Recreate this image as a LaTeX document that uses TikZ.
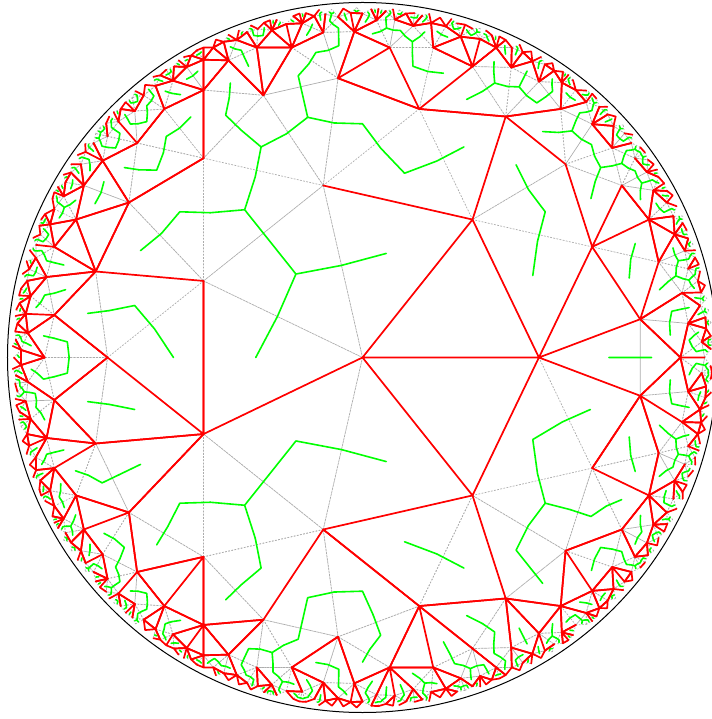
\documentclass[tikz,border=0pt]{standalone}

\tikzset{
  tilegrid/.style={draw=gray!65, line width=0.7pt, dash pattern=on 1.5pt off 1.7pt},
  openedge/.style={draw=red, line width=1.7pt, line cap=round, line join=round},
  dualedge/.style={draw=green, line width=1.6pt, line cap=round, line join=round},
  rim/.style={draw=black, line width=1pt}
}

\ExplSyntaxOn
% order-7 triangular tiling in the Poincare disk (unit radius)
\fp_const:Nn \c__hyp_r_fp { sqrt(1 - 4 * (sin(pi/7))^2) }
\fp_const:Nn \c__hyp_t_fp { \c__hyp_r_fp / (1 + sqrt(1 - \c__hyp_r_fp^2)) }
\fp_const:Nn \c__hyp_s_fp { 2 * \c__hyp_r_fp / (1 + \c__hyp_r_fp^2) * cos(pi/7) }
\fp_const:Nn \c__hyp_m_fp { \c__hyp_s_fp / (1 + sqrt(1 - \c__hyp_s_fp^2)) }
\fp_const:Nn \c__hyp_q_fp { \c__hyp_r_fp / cos(pi/7) }
\fp_const:Nn \c__hyp_c_fp { \c__hyp_q_fp / (1 + sqrt(1 - \c__hyp_q_fp^2)) }
\fp_const:Nn \c__hyp_rmax_fp { 0.976^2 }
\fp_const:Nn \c__hyp_cut_fp { 0.64 }
\fp_const:Nn \c__hyp_cutb_fp { 0.923^2 }
\fp_const:Nn \c__hyp_p_fp { 0.5 }

\cs_new_protected:Npn \__hyp_base:nnn #1#2#3
  {
    \fp_const:cn { c__hyp_#1x_fp } { (#2) * cos(#3) }
    \fp_const:cn { c__hyp_#1y_fp } { (#2) * sin(#3) }
  }
\__hyp_base:nnn { pa } { 0 } { 0 }
\__hyp_base:nnn { pb } { \c__hyp_r_fp } { 0 }
\__hyp_base:nnn { pc } { \c__hyp_r_fp } { 2*pi/7 }
\__hyp_base:nnn { ma } { \c__hyp_m_fp } { pi/7 }
\__hyp_base:nnn { mb } { \c__hyp_t_fp } { 2*pi/7 }
\__hyp_base:nnn { mc } { \c__hyp_t_fp } { 0 }
\__hyp_base:nnn { cc } { \c__hyp_c_fp } { pi/7 }

% half-turns about the three edge midpoints
\cs_new_protected:Npn \__hyp_gen:n #1
  {
    \fp_set:Nn \l_tmpa_fp { \use:c { c__hyp_m#1x_fp }^2 + \use:c { c__hyp_m#1y_fp }^2 }
    \fp_const:cn { c__hyp_g#1ar_fp } { 0 }
    \fp_const:cn { c__hyp_g#1ai_fp } { (1 + \l_tmpa_fp) / (1 - \l_tmpa_fp) }
    \fp_const:cn { c__hyp_g#1br_fp } { 2 * \use:c { c__hyp_m#1y_fp } / (1 - \l_tmpa_fp) }
    \fp_const:cn { c__hyp_g#1bi_fp } { -2 * \use:c { c__hyp_m#1x_fp } / (1 - \l_tmpa_fp) }
  }
\__hyp_gen:n { a }
\__hyp_gen:n { b }
\__hyp_gen:n { c }

\clist_const:Nn \c__hyp_points_clist { pa, pb, pc, ma, mb, mc, cc }
\clist_map_inline:Nn \c__hyp_points_clist
  {
    \fp_new:c { l__hyp_#1x_fp }
    \fp_new:c { l__hyp_#1y_fp }
    \tl_new:c { l__hyp_#1_tl }
  }
\clist_map_inline:nn
  { ar, ai, br, bi, nar, nai, nbr, nbi, nr, ni, dr, di, dd, wx, wy, h }
  { \fp_new:c { l__hyp_#1_fp } }
\int_new:N \g__hyp_count_int
\int_new:N \l__hyp_i_int
\int_new:N \l__hyp_ix_int
\int_new:N \l__hyp_iy_int
\bool_new:N \l__hyp_open_bool
\tl_new:N \l__hyp_red_tl
\tl_new:N \l__hyp_green_tl
\tl_new:N \l__hyp_key_tl
\tl_new:N \l__hyp_path_tl

% w = (a z + b) / (conj(b) z + conj(a))
\cs_new_protected:Npn \__hyp_apply:nnnnnn #1#2#3#4#5#6
  {
    \fp_set:Nn \l__hyp_nr_fp { (#1)*(#5) - (#2)*(#6) + (#3) }
    \fp_set:Nn \l__hyp_ni_fp { (#1)*(#6) + (#2)*(#5) + (#4) }
    \fp_set:Nn \l__hyp_dr_fp { (#3)*(#5) + (#4)*(#6) + (#1) }
    \fp_set:Nn \l__hyp_di_fp { (#3)*(#6) - (#4)*(#5) - (#2) }
    \fp_set:Nn \l__hyp_dd_fp { \l__hyp_dr_fp^2 + \l__hyp_di_fp^2 }
    \fp_set:Nn \l__hyp_wx_fp
      { (\l__hyp_nr_fp * \l__hyp_dr_fp + \l__hyp_ni_fp * \l__hyp_di_fp) / \l__hyp_dd_fp }
    \fp_set:Nn \l__hyp_wy_fp
      { (\l__hyp_ni_fp * \l__hyp_dr_fp - \l__hyp_nr_fp * \l__hyp_di_fp) / \l__hyp_dd_fp }
  }

\cs_new_protected:Npn \__hyp_key:
  {
    \tl_set:Nx \l__hyp_key_tl
      {
        g__hyp_seen_ \fp_eval:n { round(\l__hyp_wx_fp * 100000 + 0.37) }
        _ \fp_eval:n { round(\l__hyp_wy_fp * 100000 + 0.37) }
      }
  }

% named vertices of rings 0 to 3 (polar: angle, radius)
\cs_new_protected:Npn \__hyp_vertex:nnn #1#2#3
  {
    \tl_const:cx { c__hyp_v_#1_tl }
      { { \fp_eval:n { (#3) * cosd(#2) } } { \fp_eval:n { (#3) * sind(#2) } } }
  }
\__hyp_vertex:nnn { O } { 0 } { 0 }
\int_step_inline:nnn { 0 } { 6 }
  {
    \__hyp_vertex:nnn { v#1 } { 360/7*#1 } { \c__hyp_r_fp }
    \__hyp_vertex:nnn { s#1 } { 360/7*#1 + 180/7 } { \c__hyp_s_fp }
    \__hyp_vertex:nnn { u#1a } { 360/7*#1 + 7.848 } { 0.7896 }
    \__hyp_vertex:nnn { u#1b } { 360/7*#1 - 7.848 } { 0.7896 }
    \__hyp_vertex:nnn { x#1 } { 360/7*#1 } { 0.8955 }
    \__hyp_vertex:nnn { m#1 } { 360/7*#1 + 180/7 } { 0.8955 }
    \__hyp_vertex:nnn { a#1p } { 360/7*#1 + 5.973 } { 0.9224 }
    \__hyp_vertex:nnn { a#1m } { 360/7*#1 - 5.973 } { 0.9224 }
    \__hyp_vertex:nnn { b#1p } { 360/7*#1 + 11.42 } { 0.9182 }
    \__hyp_vertex:nnn { b#1m } { 360/7*#1 - 11.42 } { 0.9182 }
    \__hyp_vertex:nnn { c#1p } { 360/7*#1 + 17.87 } { 0.8764 }
    \__hyp_vertex:nnn { c#1m } { 360/7*#1 - 17.87 } { 0.8764 }
  }

% an edge is stored under the cell of its chord middle (cells of 0.01)
\cs_new_protected:Npn \__hyp_mid:nnnnn #1#2#3#4#5
  {
    \int_set:Nn \l__hyp_ix_int { \fp_eval:n { round( (#1 + #3) * 50 ) } }
    \int_set:Nn \l__hyp_iy_int { \fp_eval:n { round( (#2 + #4) * 50 ) } }
    \int_step_inline:nnn { -1 } { 1 }
      {
        \int_step_inline:nnn { -1 } { 1 }
          {
            \tl_gset:cn
              {
                g__hyp_e_ \int_eval:n { \l__hyp_ix_int + ##1 }
                _ \int_eval:n { \l__hyp_iy_int + ####1 }
              }
              {#5}
          }
      }
  }
\NewDocumentCommand \hypopen { m m }
  {
    \use:x
      {
        \exp_not:N \__hyp_mid:nnnnn
        \tl_use:c { c__hyp_v_#1_tl } \tl_use:c { c__hyp_v_#2_tl } { 1 }
      }
  }
\NewDocumentCommand \hypshut { m m }
  {
    \use:x
      {
        \exp_not:N \__hyp_mid:nnnnn
        \tl_use:c { c__hyp_v_#1_tl } \tl_use:c { c__hyp_v_#2_tl } { 2 }
      }
  }

\cs_new_protected:Npn \__hyp_hash:n #1
  {
    \fp_set:Nn \l__hyp_h_fp
      {
        sin( 12.9898 * round( \use:c { l__hyp_#1x_fp } * 100000 )
           + 78.233 * round( \use:c { l__hyp_#1y_fp } * 100000 ) ) * 43758.5453
      }
    \fp_compare:nNnT { \l__hyp_h_fp - floor(\l__hyp_h_fp) } < \c__hyp_p_fp
      { \bool_set_true:N \l__hyp_open_bool }
  }

% open (red) or closed (green dual) for the edge #1-#2 with midpoint #3
\cs_new_protected:Npn \__hyp_decide:nnn #1#2#3
  {
    \bool_set_false:N \l__hyp_open_bool
    \fp_set:Nn \l_tmpa_fp { \use:c { l__hyp_#3x_fp }^2 + \use:c { l__hyp_#3y_fp }^2 }
    \fp_compare:nNnTF \l_tmpa_fp < \c__hyp_cutb_fp
      {
        \tl_set:Nx \l__hyp_key_tl
          {
            g__hyp_e_
            \int_eval:n
              { \fp_eval:n { round( ( \use:c { l__hyp_#1x_fp } + \use:c { l__hyp_#2x_fp } ) * 50 ) } }
            _
            \int_eval:n
              { \fp_eval:n { round( ( \use:c { l__hyp_#1y_fp } + \use:c { l__hyp_#2y_fp } ) * 50 ) } }
          }
        \tl_if_exist:cTF { \l__hyp_key_tl }
          {
            \int_compare:nNnT { \tl_use:c { \l__hyp_key_tl } } = { 1 }
              { \bool_set_true:N \l__hyp_open_bool }
          }
          {
            \fp_compare:nNnF \l_tmpa_fp < \c__hyp_cut_fp
              { \__hyp_hash:n {#3} }
          }
      }
      { \__hyp_hash:n {#3} }
  }

\cs_new_protected:Npn \__hyp_edge:nnn #1#2#3
  {
    \__hyp_decide:nnn {#1} {#2} {#3}
    \bool_if:NTF \l__hyp_open_bool
      {
        \tl_put_right:Nx \l__hyp_red_tl
          { ( \tl_use:c { l__hyp_#1_tl } ) -- ( \tl_use:c { l__hyp_#2_tl } ) }
      }
      {
        \tl_put_right:Nx \l__hyp_green_tl
          { ( \l__hyp_cc_tl ) -- ( \tl_use:c { l__hyp_#3_tl } ) }
      }
  }

\cs_new_protected:Npn \__hyp_child:n #1
  {
    \fp_set:Nn \l__hyp_nar_fp
      { \l__hyp_ar_fp * \use:c { c__hyp_g#1ar_fp } - \l__hyp_ai_fp * \use:c { c__hyp_g#1ai_fp }
      + \l__hyp_br_fp * \use:c { c__hyp_g#1br_fp } + \l__hyp_bi_fp * \use:c { c__hyp_g#1bi_fp } }
    \fp_set:Nn \l__hyp_nai_fp
      { \l__hyp_ar_fp * \use:c { c__hyp_g#1ai_fp } + \l__hyp_ai_fp * \use:c { c__hyp_g#1ar_fp }
      + \l__hyp_bi_fp * \use:c { c__hyp_g#1br_fp } - \l__hyp_br_fp * \use:c { c__hyp_g#1bi_fp } }
    \fp_set:Nn \l__hyp_nbr_fp
      { \l__hyp_ar_fp * \use:c { c__hyp_g#1br_fp } - \l__hyp_ai_fp * \use:c { c__hyp_g#1bi_fp }
      + \l__hyp_br_fp * \use:c { c__hyp_g#1ar_fp } + \l__hyp_bi_fp * \use:c { c__hyp_g#1ai_fp } }
    \fp_set:Nn \l__hyp_nbi_fp
      { \l__hyp_ar_fp * \use:c { c__hyp_g#1bi_fp } + \l__hyp_ai_fp * \use:c { c__hyp_g#1br_fp }
      + \l__hyp_bi_fp * \use:c { c__hyp_g#1ar_fp } - \l__hyp_br_fp * \use:c { c__hyp_g#1ai_fp } }
    \__hyp_apply:nnnnnn \l__hyp_nar_fp \l__hyp_nai_fp \l__hyp_nbr_fp \l__hyp_nbi_fp
      \c__hyp_ccx_fp \c__hyp_ccy_fp
    \fp_compare:nNnT { \l__hyp_wx_fp^2 + \l__hyp_wy_fp^2 } < \c__hyp_rmax_fp
      {
        \__hyp_key:
        \cs_if_exist:cF { \l__hyp_key_tl }
          {
            \cs_gset_eq:cN { \l__hyp_key_tl } \prg_do_nothing:
            \int_gincr:N \g__hyp_count_int
            \tl_gset:cx { g__hyp_tile_ \int_use:N \g__hyp_count_int _tl }
              {
                { \fp_use:N \l__hyp_nar_fp } { \fp_use:N \l__hyp_nai_fp }
                { \fp_use:N \l__hyp_nbr_fp } { \fp_use:N \l__hyp_nbi_fp }
              }
          }
      }
  }

\cs_new_protected:Npn \__hyp_tile:nnnn #1#2#3#4
  {
    \fp_set:Nn \l__hyp_ar_fp {#1}
    \fp_set:Nn \l__hyp_ai_fp {#2}
    \fp_set:Nn \l__hyp_br_fp {#3}
    \fp_set:Nn \l__hyp_bi_fp {#4}
    \clist_map_inline:Nn \c__hyp_points_clist
      {
        \__hyp_apply:nnnnnn \l__hyp_ar_fp \l__hyp_ai_fp \l__hyp_br_fp \l__hyp_bi_fp
          { \use:c { c__hyp_##1x_fp } } { \use:c { c__hyp_##1y_fp } }
        \fp_set_eq:cN { l__hyp_##1x_fp } \l__hyp_wx_fp
        \fp_set_eq:cN { l__hyp_##1y_fp } \l__hyp_wy_fp
        \tl_set:cx { l__hyp_##1_tl }
          { \fp_eval:n { round(\l__hyp_wx_fp, 5) } , \fp_eval:n { round(\l__hyp_wy_fp, 5) } }
      }
    \tl_gset:cx { g__hyp_gray_ \int_use:N \l__hyp_i_int _tl }
      {
        ( \l__hyp_pa_tl ) -- ( \l__hyp_pb_tl )
        ( \l__hyp_pb_tl ) -- ( \l__hyp_pc_tl )
        ( \l__hyp_pc_tl ) -- ( \l__hyp_pa_tl )
      }
    \tl_clear:N \l__hyp_red_tl
    \tl_clear:N \l__hyp_green_tl
    \__hyp_edge:nnn { pa } { pb } { mc }
    \__hyp_edge:nnn { pb } { pc } { ma }
    \__hyp_edge:nnn { pc } { pa } { mb }
    \tl_gset_eq:cN { g__hyp_red_ \int_use:N \l__hyp_i_int _tl } \l__hyp_red_tl
    \tl_gset_eq:cN { g__hyp_green_ \int_use:N \l__hyp_i_int _tl } \l__hyp_green_tl
    \__hyp_child:n { a }
    \__hyp_child:n { b }
    \__hyp_child:n { c }
  }

\cs_new_protected:Npn \hypbuild
  {
    \int_gset:Nn \g__hyp_count_int { 1 }
    \tl_gset:cn { g__hyp_tile_1_tl } { {1} {0} {0} {0} }
    \__hyp_apply:nnnnnn {1} {0} {0} {0} \c__hyp_ccx_fp \c__hyp_ccy_fp
    \__hyp_key:
    \cs_gset_eq:cN { \l__hyp_key_tl } \prg_do_nothing:
    \int_set:Nn \l__hyp_i_int { 1 }
    \int_until_do:nNnn { \l__hyp_i_int } > { \g__hyp_count_int }
      {
        \exp_last_unbraced:Nv \__hyp_tile:nnnn { g__hyp_tile_ \int_use:N \l__hyp_i_int _tl }
        \int_incr:N \l__hyp_i_int
      }
  }

% draw the stored pieces of one kind, 30 tiles to a path
\cs_new_protected:Npn \__hyp_flush:n #1
  {
    \tl_if_empty:NF \l__hyp_path_tl
      { \use:x { \exp_not:N \draw [#1] \exp_not:V \l__hyp_path_tl ; } }
    \tl_clear:N \l__hyp_path_tl
  }
\cs_new_protected:Npn \__hyp_drawall:nn #1#2
  {
    \tl_clear:N \l__hyp_path_tl
    \int_step_inline:nn { \g__hyp_count_int }
      {
        \tl_put_right:Nv \l__hyp_path_tl { g__hyp_#2_##1_tl }
        \int_compare:nNnT { \int_mod:nn {##1} {30} } = { 0 }
          { \__hyp_flush:n {#1} }
      }
    \__hyp_flush:n {#1}
  }
\cs_new_protected:Npn \hypdraw
  {
    \__hyp_drawall:nn { tilegrid } { gray }
    \__hyp_drawall:nn { dualedge } { green }
    \__hyp_drawall:nn { openedge } { red }
  }
\ExplSyntaxOff

% open edges, rings 0 to 2 (every other edge there is closed)
\hypopen{O}{v0} \hypopen{O}{v1} \hypopen{O}{v4} \hypopen{O}{v6}
\hypopen{v0}{v1} \hypopen{v1}{v2} \hypopen{v3}{v4} \hypopen{v5}{v6} \hypopen{v6}{v0}
\hypopen{v0}{s0} \hypopen{v0}{u0a} \hypopen{v0}{u0b}
\hypopen{v1}{u1a}
\hypopen{v3}{u3a}
\hypopen{v4}{s3} \hypopen{v4}{u4b} \hypopen{v4}{u4a}
\hypopen{v5}{u5b} \hypopen{v5}{s5}
\hypopen{v6}{u6b}
\hypopen{u0a}{s0} \hypopen{s0}{u1b} \hypopen{u1b}{u1a} \hypopen{u1a}{s1}
\hypopen{s1}{u2b} \hypopen{s2}{u3b} \hypopen{u3b}{u3a}
\hypopen{s5}{u6b} \hypopen{s6}{u0b}

% ring 2 to ring 3, and along ring 3
\hypopen{u0b}{b0m} \hypopen{u0b}{c0m} \hypopen{u0a}{x0} \hypopen{u0a}{b0p}
\hypopen{u0a}{c0p} \hypopen{c0p}{m0} \hypopen{s0}{m0} \hypopen{s0}{c1m}
\hypopen{c1m}{m0} \hypopen{b1m}{a1m} \hypopen{a0p}{x0} \hypopen{u1a}{x1}
\hypopen{u2a}{x2} \hypopen{u2a}{a2p} \hypopen{s2}{c2p}
\hypopen{u3b}{b3m} \hypopen{u3a}{c3p} \hypopen{u3a}{x3} \hypopen{u3a}{b3p}
\hypopen{u4b}{b4m} \hypopen{u4b}{a4m} \hypopen{u4b}{c4m}
\hypopen{u4a}{c4p} \hypopen{u4a}{x4} \hypopen{u4a}{a4p}
\hypopen{s4}{m4} \hypopen{s4}{c5m}
\hypopen{u5b}{c5m} \hypopen{u5b}{b5m} \hypopen{u5a}{x5} \hypopen{u5a}{b5p}
\hypopen{s5}{m5} \hypopen{u6b}{x6} \hypopen{u6a}{c6p} \hypopen{u6a}{a6p}

\hypshut{u2a}{c2p} \hypshut{s0}{c0p} \hypshut{c0p}{b0p} \hypshut{u0a}{a0p}
\hypshut{a0p}{b0p} \hypshut{u1a}{a1p} \hypshut{u1a}{b1p} \hypshut{u1a}{c1p}
\hypshut{x1}{a1p} \hypshut{a1p}{b1p} \hypshut{b1p}{c1p} \hypshut{u1b}{x1}
\hypshut{u1b}{a1m} \hypshut{u1b}{b1m} \hypshut{u1b}{c1m} \hypshut{x1}{a1m}
\hypshut{b1m}{c1m}

\begin{document}
\begin{tikzpicture}[x=355pt, y=355pt]
  \useasboundingbox (-1.02113,-1.01831) rectangle (0.98169,1.00704);
  \hypbuild
  \hypdraw
  \draw[rim] (0,0) circle[radius=1];
\end{tikzpicture}
\end{document}
